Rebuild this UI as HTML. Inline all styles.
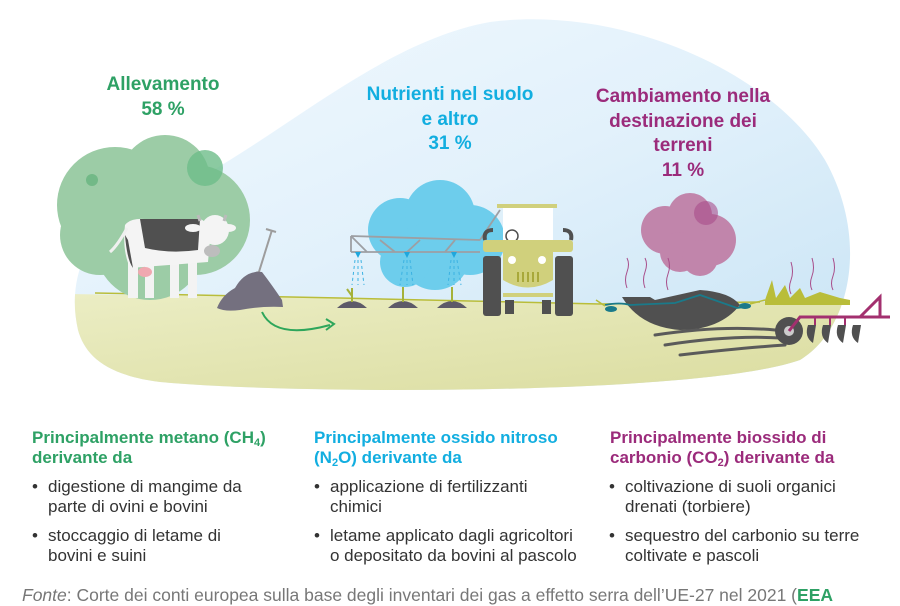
<!DOCTYPE html>
<html><head><meta charset="utf-8"><style>
html,body{margin:0;padding:0;background:#fff;width:900px;height:600px;overflow:hidden;font-family:"Liberation Sans",sans-serif}
.t{position:absolute;font-weight:bold;text-align:center;font-size:19px;line-height:24.5px}
.h{position:absolute;font-weight:bold;font-size:17px;line-height:20px;white-space:nowrap}
.h sub{font-size:11px;line-height:0;vertical-align:-3px}
ul{position:absolute;margin:0;padding:0;list-style:none;font-size:17px;line-height:20px;color:#333;white-space:nowrap}
li{position:relative;padding-left:17px;margin-bottom:9px}
li:before{content:"•";position:absolute;left:1px}
</style></head><body>
<svg width="900" height="600" style="position:absolute;left:0;top:0">
<defs>
<linearGradient id="sky" x1="0" y1="0" x2="1" y2="1">
<stop offset="0" stop-color="#f4faff"/><stop offset="0.5" stop-color="#e2f1fb"/><stop offset="1" stop-color="#c5e2f4"/></linearGradient>
<linearGradient id="gr" x1="0" y1="0" x2="1" y2="1">
<stop offset="0" stop-color="#eceec6"/><stop offset="1" stop-color="#d9db9c"/></linearGradient>
<clipPath id="blob"><path d="M78,330 C60,250 120,190 205,175 C300,120 390,40 490,22 C620,5 770,70 825,160 C870,240 850,330 800,360 C700,395 300,395 160,382 C105,375 85,355 78,330 Z"/></clipPath>
</defs>
<g clip-path="url(#blob)">
<rect x="0" y="0" width="900" height="400" fill="url(#sky)"/>
<path d="M0,293 L340,298 L600,304 L900,300 L900,400 L0,400Z" fill="url(#gr)"/>
</g>
<path d="M95,293 L340,298 L600,304 L760,302" stroke="#b9bd3a" stroke-width="1.5" fill="none"/>
<!-- green tree -->
<g fill="#9ccca6">
<circle cx="115" cy="205" r="58"/><circle cx="165" cy="180" r="45"/><circle cx="195" cy="220" r="55"/><circle cx="150" cy="245" r="55"/><circle cx="100" cy="235" r="40"/></g>
<circle cx="205" cy="168" r="18" fill="#6ebd8a" opacity="0.8"/>
<circle cx="92" cy="180" r="6" fill="#72b987"/>
<!-- cow -->
<g>
<rect x="128" y="260" width="10" height="38" fill="#f3f3f3"/><rect x="145" y="262" width="9" height="36" fill="#f3f3f3"/>
<rect x="170" y="262" width="9" height="36" fill="#f3f3f3"/><rect x="188" y="262" width="9" height="36" fill="#f3f3f3"/>
<path d="M125,225 Q130,218 145,219 L200,219 Q210,222 210,240 L208,262 L130,268 Q122,250 125,225Z" fill="#f4f4f4"/>
<path d="M140,219 L200,219 L198,250 Q170,254 145,248Z" fill="#505050"/>
<path d="M125,235 Q127,260 133,268 L128,240Z" fill="#505050"/>
<path d="M127,228 Q118,245 110,252" stroke="#f0f0f0" stroke-width="3" fill="none"/>
<ellipse cx="215" cy="230" rx="14" ry="15" fill="#f4f4f4"/>
<ellipse cx="212" cy="251" rx="8" ry="6" fill="#bdbdbd"/>
<ellipse cx="193" cy="228" rx="8" ry="4" fill="#f4f4f4"/><ellipse cx="228" cy="228" rx="8" ry="4" fill="#f4f4f4"/>
<path d="M198,215 L200,221 M226,215 L224,221" stroke="#bbb" stroke-width="3"/>
<ellipse cx="145" cy="272" rx="7" ry="5" fill="#f0a8b0"/>
</g>
<!-- shovel + manure -->
<path d="M272,230 L258,275" stroke="#9d9d9d" stroke-width="2"/><path d="M266,229 L276,232" stroke="#9d9d9d" stroke-width="2"/>
<circle cx="258" cy="276" r="4" fill="none" stroke="#9d9d9d" stroke-width="1.5"/>
<path d="M217,308 Q222,295 235,288 Q245,270 262,272 Q272,285 282,300 L283,307 Q260,306 240,310 Q225,312 217,308Z" fill="#74707f"/>
<path d="M262,312 Q275,340 330,325" stroke="#2ea65b" stroke-width="2" fill="none"/>
<path d="M326,319 L334,324 L326,330" stroke="#2ea65b" stroke-width="2" fill="none"/>
<!-- blue cloud -->
<g fill="#6dcdec">
<circle cx="400" cy="230" r="32"/><circle cx="440" cy="215" r="35"/><circle cx="470" cy="240" r="35"/><circle cx="435" cy="255" r="35"/><circle cx="405" cy="262" r="25"/></g>
<!-- boom -->
<path d="M351,236 L480,240 M351,252 L480,252 M351,236 L351,252 M351,236 L367,252 M380,240 L395,252 M420,240 L407,252 M455,240 L445,252 M480,240 L500,210" stroke="#9d9fa3" stroke-width="1.8" fill="none"/>
<g fill="#1fa7dd"><path d="M355,252 l3,6 l3,-6z"/><path d="M404,252 l3,6 l3,-6z"/><path d="M451,252 l3,6 l3,-6z"/></g>
<g stroke="#3bb2e2" stroke-width="1" stroke-dasharray="3,3">
<path d="M355,260 L352,285 M358,260 L358,285 M361,260 L364,285 M404,260 L400,285 M407,260 L407,285 M410,260 L413,285 M451,260 L448,285 M454,260 L454,285 M457,260 L461,285"/></g>
<g fill="#5d5a68"><path d="M337,308 Q352,294 367,308Z"/><path d="M388,308 Q403,294 418,308Z"/><path d="M437,308 Q452,294 467,308Z"/></g>
<g stroke="#a5b23a" stroke-width="2" fill="none"><path d="M352,302 L352,288 M352,296 L347,289 M403,302 L403,287 M452,302 L452,287"/></g>
<!-- tractor -->
<rect x="497" y="204" width="60" height="4" fill="#d0d07c"/>
<rect x="503" y="208" width="50" height="35" fill="#ffffff"/>
<circle cx="512" cy="236" r="6" fill="none" stroke="#505050" stroke-width="1.5"/>
<rect x="483" y="240" width="90" height="12" rx="3" fill="#d0d07c"/>
<rect x="483" y="256" width="18" height="60" rx="3" fill="#505050"/><rect x="555" y="256" width="18" height="60" rx="3" fill="#505050"/>
<path d="M503,252 L553,252 L553,280 Q528,295 503,280Z" fill="#d0d07c"/>
<circle cx="512" cy="260" r="4" fill="#fff"/><circle cx="542" cy="260" r="4" fill="#fff"/>
<g stroke="#a8a83a" stroke-width="2"><path d="M518,272v10M523,272v10M528,272v10M533,272v10M538,272v10"/></g>
<rect x="503" y="293" width="50" height="4" fill="#d0d07c"/>
<rect x="505" y="300" width="9" height="14" fill="#505050"/><rect x="542" y="300" width="9" height="14" fill="#505050"/>
<path d="M485,240 q-2,-10 8,-10 M571,240 q2,-10 -8,-10" stroke="#505050" stroke-width="4" fill="none"/>
<!-- purple cloud -->
<g fill="#c185ab"><circle cx="665" cy="230" r="24"/><circle cx="690" cy="215" r="22"/><circle cx="710" cy="240" r="26"/><circle cx="680" cy="252" r="20"/><circle cx="700" cy="258" r="18"/></g>
<circle cx="706" cy="213" r="12" fill="#a84d8a" opacity="0.6"/>
<g stroke="#a84d8a" stroke-width="1" fill="none"><path d="M627,288 q-3,-8 0,-16 q3,-8 0,-14 M645,288 q-3,-8 0,-16 q3,-8 0,-14 M668,290 q-3,-8 0,-16 q3,-8 0,-16 M791,262 q3,10 0,18 q-3,8 0,14 M812,258 q3,10 0,18 q-3,8 0,14 M833,258 q3,10 0,18 q-3,8 0,14"/></g>
<!-- pit -->
<path d="M622,297 L650,297 L655,300 L700,290 Q730,292 740,305 Q720,330 680,330 Q640,327 622,297Z" fill="#505050"/>
<path d="M605,305 Q620,302 630,305 L675,303 L700,295 L737,308 L745,307" stroke="#1a7a8a" stroke-width="1.8" fill="none"/>
<ellipse cx="611" cy="309" rx="6" ry="3" fill="#1a7a8a"/><ellipse cx="745" cy="306" rx="6" ry="3" fill="#1a7a8a"/>
<path d="M596,300 L605,306 M750,304 L765,300" stroke="#b9bd3a" stroke-width="1.5"/>
<!-- grass -->
<path d="M765,300 L772,280 L776,298 L785,285 L790,298 L800,288 L805,298 L820,292 L840,298 L850,300 L850,305 L765,305Z" fill="#b9bd3a"/>
<!-- furrows -->
<g stroke="#5a5a5a" stroke-width="3" fill="none" stroke-linecap="round"><path d="M655,335 Q720,325 775,330 M665,345 Q730,335 780,338 M680,355 Q740,348 785,345"/></g>
<!-- plow -->
<circle cx="789" cy="331" r="14" fill="#505050"/><circle cx="789" cy="331" r="5" fill="#ccc"/>
<path d="M789,331 L800,317 L890,317 M860,317 L880,297 L880,317" stroke="#a3306f" stroke-width="3" fill="none"/>
<g stroke="#a3306f" stroke-width="2"><path d="M815,317v8M830,317v8M845,317v8"/></g>
<g fill="#505050"><path d="M808,325 q-4,12 5,18 l3,-18z"/><path d="M823,325 q-4,12 5,18 l3,-18z"/><path d="M838,325 q-4,12 5,18 l3,-18z"/><path d="M853,325 q-4,12 5,18 l3,-18z"/></g>
</svg>
<div class="t" style="left:63px;top:73px;width:200px;color:#2ea165">Allevamento<br>58 %</div>
<div class="t" style="left:335px;top:83px;width:230px;color:#12aee0">Nutrienti nel suolo<br>e altro<br>31 %</div>
<div class="t" style="left:573px;top:85px;width:220px;color:#9b2b7b">Cambiamento nella<br>destinazione dei<br>terreni<br>11 %</div>
<div class="h" style="left:32px;top:428px;color:#2ea165">Principalmente metano (CH<sub>4</sub>)<br>derivante da</div>
<div class="h" style="left:314px;top:428px;color:#12aee0">Principalmente ossido nitroso<br>(N<sub>2</sub>O) derivante da</div>
<div class="h" style="left:610px;top:428px;color:#9b2b7b">Principalmente biossido di<br>carbonio (CO<sub>2</sub>) derivante da</div>
<ul style="left:31px;top:477px"><li>digestione di mangime da<br>parte di ovini e bovini</li><li>stoccaggio di letame di<br>bovini e suini</li></ul>
<ul style="left:313px;top:477px"><li>applicazione di fertilizzanti<br>chimici</li><li>letame applicato dagli agricoltori<br>o depositato da bovini al pascolo</li></ul>
<ul style="left:608px;top:477px"><li>coltivazione di suoli organici<br>drenati (torbiere)</li><li>sequestro del carbonio su terre<br>coltivate e pascoli</li></ul>
<div style="position:absolute;left:22px;top:585px;font-size:17.5px;color:#777;white-space:nowrap"><i>Fonte</i>: Corte dei conti europea sulla base degli inventari dei gas a effetto serra dell’UE-27 nel 2021 (<b style="color:#2ea165">EEA</b></div>
</body></html>
